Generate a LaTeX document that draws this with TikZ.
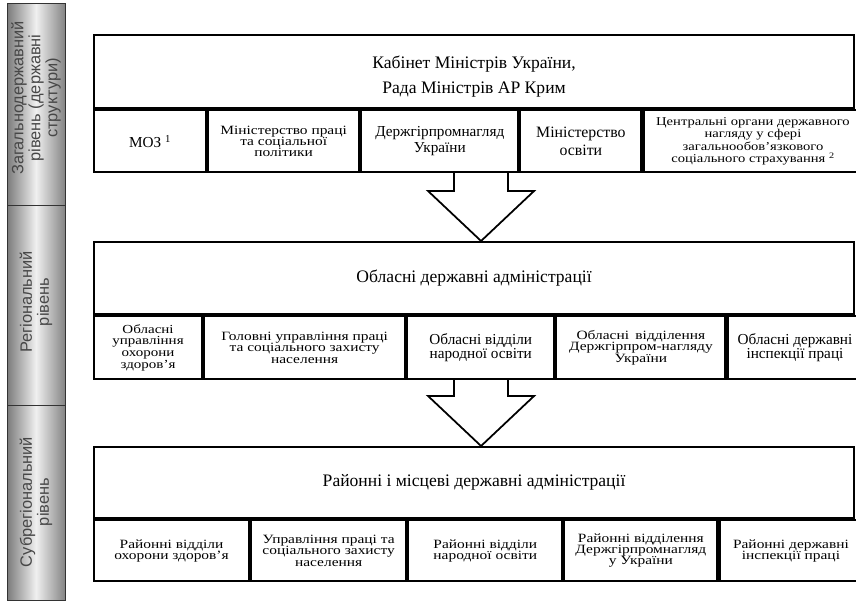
\documentclass[tikz,border=0pt]{standalone}
\usepackage{fontspec}
\setmainfont{Liberation Serif}
\newfontfamily\barfont{Liberation Sans}
\newfontfamily\widefont[FakeStretch=1.22]{Liberation Serif}
\usetikzlibrary{positioning,calc}

\begin{document}
\begin{tikzpicture}[x=0.03cm, y=-0.03cm,
    cellsize/.style 2 args={minimum width=#1*0.03cm, minimum height=#2*0.03cm},
    cell/.style={draw, line width=1.8pt, anchor=north west, align=center, inner sep=1pt,
        font=\fontsize{13}{14}\selectfont},
    squeezed/.style={font=\widefont\fontsize{10.8}{#1}\selectfont},
    squeezed/.default=9.6,
    header/.style={cell, font=\fontsize{15}{21}\selectfont},
    levelbar/.style={draw=black!80, line width=0.8pt, left color=black!52, right color=black!48, middle color=black!6},
    leveltext/.style={rotate=90, align=center, text=black!72, font=\barfont\fontsize{14}{14.5}\selectfont},
    bigarrow/.style={draw, line width=1.5pt, line join=miter}]

    \useasboundingbox (0,0) rectangle (856,605);

    % Level bar on the left
    \draw[levelbar] (7,3) rectangle (65,205);
    \draw[levelbar] (7,205) rectangle (65,405);
    \draw[levelbar] (7,405) rectangle (65,600);
    \node[leveltext] (lvl1) at (36,98) {Загальнодержавний\\рівень (державні\\структури)};
    \node[leveltext] (lvl2) at (36,302) {Регіональний\\рівень};
    \node[leveltext] (lvl3) at (36,502) {Субрегіональний\\рівень};

    % State level
    \node[cell, cellsize={760}{73}] (kmu) at (93,34) {};
    \node[align=center, font=\fontsize{15}{21}\selectfont] (kmutext) at ($(kmu.center)+(0,5)$) {Кабінет Міністрів України,\\Рада Міністрів АР Крим};
    \node[cell, cellsize={112}{62}] (moz) at (kmu.south west) {МОЗ \textsuperscript{1}};
    \node[cell, squeezed, cellsize={151}{62}] (mpsp) at (moz.north east) {Міністерство праці\\та соціальної\\політики};
    \node[cell, cellsize={157}{62}] (dgpn) at (mpsp.north east) {Держгірпромнагляд\\України};
    \node[cell, cellsize={121}{62}, font=\fontsize{13.5}{15.5}\selectfont] (mo) at (dgpn.north east) {Міністерство\\освіти};
    \node[cell, cellsize={219}{62}, font=\widefont\fontsize{10.2}{10.7}\selectfont] (cod) at (mo.north east) {Центральні органи державного\\нагляду у сфері\\загальнообов’язкового\\соціального страхування \textsuperscript{2}};

    % Regional level
    \node[header, cellsize={760}{72}] (oda) at (93,241) {Обласні державні адміністрації};
    \node[cell, cellsize={108}{63}, font=\widefont\fontsize{10.5}{10}\selectfont] (ouoz) at (oda.south west) {Обласні\\управління\\охорони\\здоров’я};
    \node[cell, squeezed, cellsize={201}{63}] (gupsz) at (ouoz.north east) {Головні управління праці\\та соціального захисту\\населення};
    \node[cell, cellsize={147}{63}, font=\fontsize{13}{12}\selectfont] (ovno) at (gupsz.north east) {Обласні відділи\\народної освіти};
    \node[cell, squeezed, cellsize={169}{63}] (ovdn) at (ovno.north east) {Обласні\enspace відділення\\Держгірпром-нагляду\\України};
    \node[cell, cellsize={135}{63}, font=\fontsize{13}{12}\selectfont] (odip) at (ovdn.north east) {Обласні державні\\інспекції праці};

    % Subregional level
    \node[header, cellsize={760}{71}] (rda) at (93,446) {Районні і місцеві державні адміністрації};
    \node[cell, squeezed, cellsize={155}{61}] (rvoz) at (rda.south west) {Районні відділи\\охорони здоров’я};
    \node[cell, squeezed, cellsize={155}{61}] (upsz) at (rvoz.north east) {Управління праці та\\соціального захисту\\населення};
    \node[cell, squeezed, cellsize={154}{61}] (rvno) at (upsz.north east) {Районні відділи\\народної освіти};
    \node[cell, squeezed, cellsize={153}{61}] (rvdn) at (rvno.north east) {Районні відділення\\Держгірпромнагляд\\у України};
    \node[cell, squeezed, cellsize={143}{61}] (rdip) at (rvdn.north east) {Районні державні\\інспекції праці};

    % Block arrows
    \coordinate (a1s) at ($(kmu.center |- moz.south)+(7,0)$);
    \coordinate (a1e) at ($(oda.north)+(7,0)$);
    \draw[bigarrow] ($(a1s)+(-27,0)$) -- ($(a1e)+(-27,-50)$) -- ($(a1e)+(-53,-50)$) -- (a1e)
        -- ($(a1e)+(53,-50)$) -- ($(a1e)+(27,-50)$) -- ($(a1s)+(27,0)$);
    \coordinate (a2s) at ($(oda.center |- ouoz.south)+(7,0)$);
    \coordinate (a2e) at ($(rda.north)+(7,0)$);
    \draw[bigarrow] ($(a2s)+(-27,0)$) -- ($(a2e)+(-27,-50)$) -- ($(a2e)+(-53,-50)$) -- (a2e)
        -- ($(a2e)+(53,-50)$) -- ($(a2e)+(27,-50)$) -- ($(a2s)+(27,0)$);
\end{tikzpicture}
\end{document}
